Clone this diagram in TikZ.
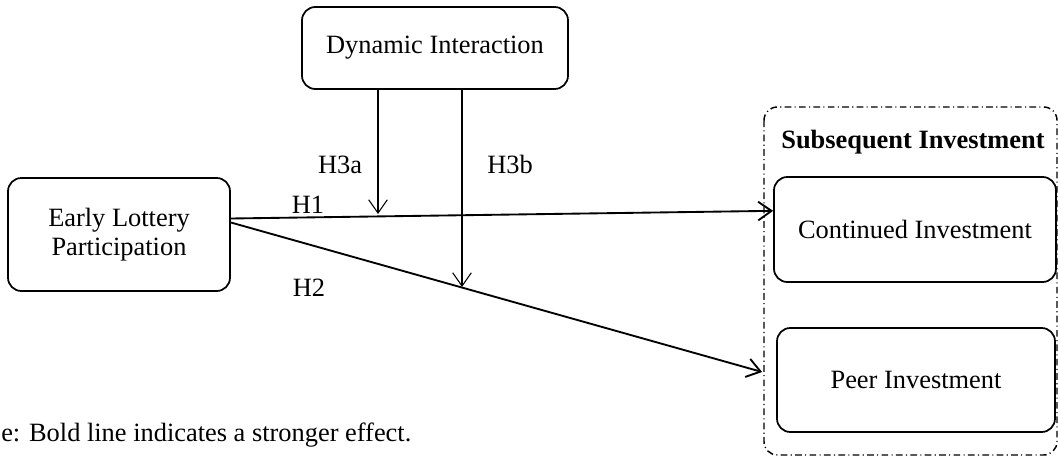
\documentclass[tikz,border=0pt]{standalone}
\usepackage{fontspec}
\setmainfont{Liberation Serif}
\usetikzlibrary{arrows.meta}
\begin{document}
\begin{tikzpicture}[x=0.75pt,y=-0.75pt,line join=round,font=\fontsize{19.8}{22}\selectfont,
	box/.style={draw,line width=1.3pt,rounded corners=10pt,align=center,inner sep=0pt},
	effect/.style={line width=1.4pt,-{Straight Barb[length=10pt,width=14pt]}},
	moderate/.style={line width=0.8pt,-{Straight Barb[length=10pt,width=14pt]}},
	lbl/.style={inner sep=0pt,anchor=base}]
	\useasboundingbox (0,0) rectangle (1058,457);
	%Cac khoi
	\node[box,minimum width=199.5pt,minimum height=61.5pt] (dyn) at (435,48) {Dynamic Interaction};
	\node[box,minimum width=166.5pt,minimum height=84.75pt] (early) at (119,234.5) {Early Lottery\\Participation};
	\node[box,minimum width=211.5pt,minimum height=78.75pt] (cont) at (915,229.5) {Continued Investment};
	\node[box,minimum width=208.5pt,minimum height=78pt] (peer) at (916,380) {Peer Investment};
	%Khung nhom
	\draw[line width=1.1pt,dash pattern=on 5pt off 2.5pt on 0.8pt off 2.5pt,rounded corners=10pt] (764,107) rectangle (1057,455);
	\node[lbl] (subinv) at (913,148) {\textbf{Subsequent Investment}};
	%Cac duong H1 H2
	\draw[effect] ([yshift=12pt]early.east)--([yshift=14pt]cont.west);
	\draw[effect] ([yshift=9pt]early.east)--([xshift=-10.5pt,yshift=6pt]peer.west);
	%Dieu tiet
	\coordinate (m1) at (378,214);
	\coordinate (m2) at (462,287);
	\draw[moderate] (dyn.south -| m1)--(m1);
	\draw[moderate] (dyn.south -| m2)--(m2);
	%Nhan
	\node[lbl] (h3a) at (340,173) {H3a};
	\node[lbl] (h3b) at (510,173) {H3b};
	\node[lbl] (h1) at (308,213) {H1};
	\node[lbl] (h2) at (309,296) {H2};
	\node[lbl,anchor=base west] (note) at (1,441) {e: Bold line indicates a stronger effect.};
\end{tikzpicture}
\end{document}
